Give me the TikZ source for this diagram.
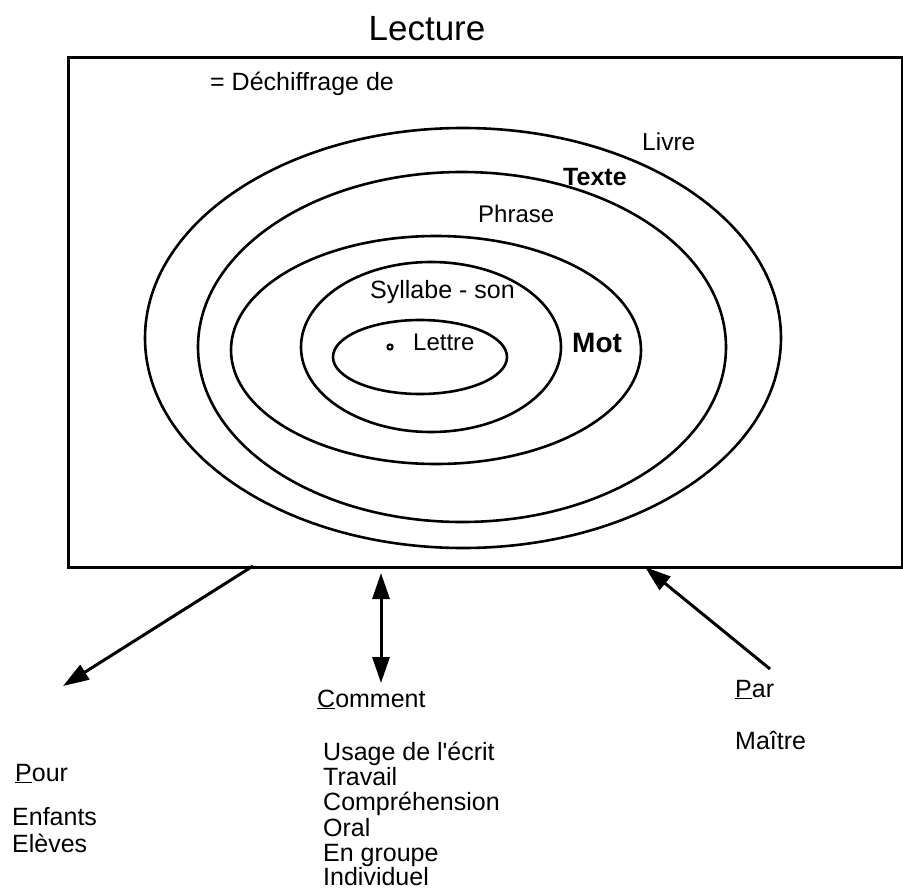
\documentclass[tikz,border=0pt]{standalone}
\usepackage{fontspec}
\setmainfont{Liberation Sans}[Ligatures=TeXOff]
\usetikzlibrary{arrows.meta}
\tikzset{
  ring/.style={draw, line width=2.6pt},
  lbl/.style={inner sep=0pt, anchor=base west, font=\fontsize{25}{25}\selectfont},
  boldlbl/.style={lbl, font=\fontsize{25}{25}\selectfont\bfseries},
  conn/.style={line width=3pt, -{Triangle[length=26pt,width=17pt]}},
  dconn/.style={line width=3pt, {Triangle[length=26pt,width=17pt]}-{Triangle[length=26pt,width=17pt]}},
}
\begin{document}
\begin{tikzpicture}[x=1pt,y=-1pt]
\useasboundingbox (0,0) rectangle (903,889);
% title
\node[inner sep=0pt, anchor=base, font=\fontsize{35}{35}\selectfont] (title) at (427,40) {Lecture};
% frame
\node[draw, line width=2.6pt, minimum width=834pt, minimum height=510pt, anchor=north west, inner sep=0pt] (frame) at (67,56) {};
% ellipses
\draw[ring] (463,338) ellipse [x radius=318pt, y radius=210pt];
\draw[ring] (462,347) ellipse [x radius=264pt, y radius=175pt];
\draw[ring] (436,350) ellipse [x radius=205pt, y radius=114pt];
\draw[ring] (431,347) ellipse [x radius=130pt, y radius=85pt];
\draw[ring] (420,357) ellipse [x radius=87pt, y radius=37pt];
\draw[line width=2pt] (390,347) circle (2.6pt);
% labels in frame
\node[lbl] (dech) at (210,90) {= Déchiffrage de};
\node[lbl, font=\fontsize{24.5}{24.5}\selectfont] (livre) at (642,150) {Livre};
\node[boldlbl] (texte) at (563,185) {Texte};
\node[lbl, font=\fontsize{24}{24}\selectfont] (phrase) at (478,222) {Phrase};
\node[lbl] (syll) at (370,298) {Syllabe - son};
\node[lbl, font=\fontsize{24}{24}\selectfont] (lettre) at (413,350) {Lettre};
\node[boldlbl, font=\fontsize{28}{28}\selectfont\bfseries] (mot) at (572,352) {Mot};
% connector ends
\coordinate (pourstart) at (253,566);
\coordinate (pourend) at (63,686);
\coordinate (comtop) at (381,573);
\coordinate (combot) at (381,683);
\coordinate (parstart) at (770,669);
\coordinate (parend) at (645,567);
\draw[conn] (pourstart) -- (pourend);
\draw[dconn] (comtop) -- (combot);
\draw[conn] (parstart) -- (parend);
% bottom labels
\node[lbl] (pour) at (15,781) {\underline{P}our};
\node[lbl] (enf) at (12,825) {Enfants};
\node[lbl] (elev) at (12,852) {Elèves};
\node[lbl] (comment) at (317,707) {\underline{C}omment};
\node[lbl] (u1) at (323,760) {Usage de l'écrit};
\node[lbl] (u2) at (323,785) {Travail};
\node[lbl] (u3) at (323,810) {Compréhension};
\node[lbl] (u4) at (323,836) {Oral};
\node[lbl] (u5) at (323,861) {En groupe};
\node[lbl] (u6) at (323,885) {Individuel};
\node[lbl] (par) at (735,697) {\underline{P}ar};
\node[lbl] (maitre) at (735,749) {Maître};
\end{tikzpicture}
\end{document}
